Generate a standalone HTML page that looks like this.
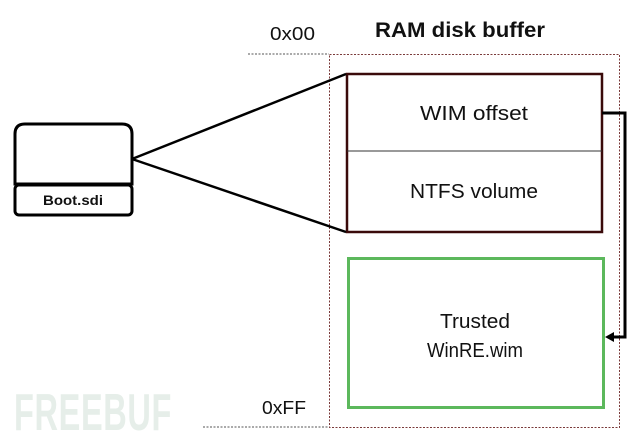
<!DOCTYPE html>
<html><head><meta charset="utf-8"><style>
html,body{margin:0;padding:0;background:#fff;}
svg{display:block;}
text{font-family:"Liberation Sans",sans-serif;}
</style></head><body>
<svg width="640" height="438" viewBox="0 0 640 438" xmlns="http://www.w3.org/2000/svg">
<text x="14" y="430" font-size="52" font-weight="bold" fill="#e6eee9" letter-spacing="1" textLength="158" lengthAdjust="spacingAndGlyphs">FREEBUF</text>
<line x1="248" y1="54" x2="329" y2="54" stroke="#555" stroke-width="1" stroke-dasharray="2,1.5"/>
<line x1="203" y1="427" x2="329" y2="427" stroke="#555" stroke-width="1" stroke-dasharray="2,1.5"/>
<rect x="329.5" y="54.5" width="290" height="373" fill="none" stroke="#7a3a3a" stroke-width="1" stroke-dasharray="2,1.5"/>
<text x="270" y="40" font-size="18" fill="#111" textLength="45" lengthAdjust="spacingAndGlyphs">0x00</text>
<text x="460" y="37" font-size="21" font-weight="bold" text-anchor="middle" fill="#111" textLength="170" lengthAdjust="spacingAndGlyphs">RAM disk buffer</text>
<text x="262" y="414" font-size="18" fill="#111" textLength="44" lengthAdjust="spacingAndGlyphs">0xFF</text>
<rect x="347" y="74" width="255" height="158" fill="#fff" stroke="#3a0a0a" stroke-width="2.5"/>
<line x1="347" y1="151" x2="602" y2="151" stroke="#333" stroke-width="1"/>
<text x="474" y="120" font-size="20" text-anchor="middle" fill="#111" textLength="108" lengthAdjust="spacingAndGlyphs">WIM offset</text>
<text x="474" y="198" font-size="20" text-anchor="middle" fill="#111" textLength="128" lengthAdjust="spacingAndGlyphs">NTFS volume</text>
<rect x="348.5" y="258.5" width="255" height="149" fill="#fff" stroke="#5cb85c" stroke-width="3"/>
<text x="475" y="328" font-size="20" text-anchor="middle" fill="#111" textLength="70" lengthAdjust="spacingAndGlyphs">Trusted</text>
<text x="475" y="357" font-size="20" text-anchor="middle" fill="#111" textLength="96" lengthAdjust="spacingAndGlyphs">WinRE.wim</text>
<polyline points="602,113 625,113 625,337 612,337" fill="none" stroke="#000" stroke-width="3"/>
<polygon points="605,337 614,332 614,342" fill="#000"/>
<path d="M15,184 L15,134 Q15,124 25,124 L122,124 Q132,124 132,134 L132,184 Z" fill="#fff" stroke="#000" stroke-width="3"/>
<rect x="15" y="185" width="117" height="30" rx="4" fill="#fff" stroke="#000" stroke-width="3"/>
<text x="73" y="205" font-size="14" font-weight="bold" text-anchor="middle" fill="#111" textLength="60" lengthAdjust="spacingAndGlyphs">Boot.sdi</text>
<line x1="132" y1="159" x2="346" y2="74" stroke="#000" stroke-width="2.5"/>
<line x1="132" y1="159" x2="346" y2="232" stroke="#000" stroke-width="2.5"/>
</svg>
</body></html>
